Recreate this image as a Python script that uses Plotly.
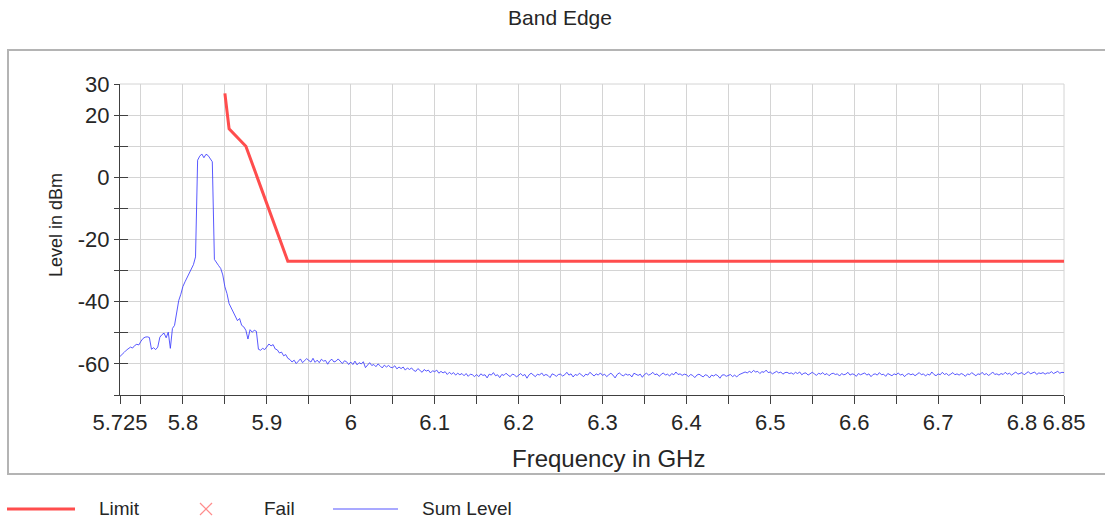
import numpy as np
import plotly.graph_objects as go

# ---------------- data ----------------
limit_freq = [5.85, 5.855, 5.875, 5.925, 6.85]
limit_level = [27.0, 15.6, 10.0, -27.0, -27.0]

sum_level = [
    # 5.725 - 5.7475
    -57.6, -57.1, -56.3, -55.6, -55.1, -54.6, -54.9, -54.1, -53.7, -53.9,
    # 5.75 - 5.7725
    -52.7, -51.8, -51.4, -51.3, -51.5, -55.3, -54.8, -55.4, -54.6, -51.4,
    # 5.775 - 5.7975
    -50.6, -50.1, -51.6, -49.8, -55.0, -48.6, -47.6, -44.2, -39.6, -37.6,
    # 5.8 - 5.8225
    -35.1, -33.6, -32.2, -30.6, -29.4, -28.1, -25.6, 5.5, 6.8, 7.5,
    # 5.825 - 5.8475
    6.3, 7.4, 7.0, 6.0, 5.0, -26.4, -27.6, -28.4, -29.3, -31.4,
    # 5.85 - 5.8725
    -35.2, -37.4, -40.6, -42.1, -43.2, -44.6, -46.1, -45.4, -47.6, -48.1,
    # 5.875 - 5.8975
    -49.2, -52.0, -49.0, -49.8, -49.2, -49.5, -55.3, -55.6, -55.0, -55.4,
    # 5.9 - 5.9225
    -54.5, -53.6, -54.2, -53.8, -55.2, -55.5, -56.5, -56.2, -57.4, -57.0,
    # 5.925 - 5.9475
    -58.2, -58.6, -59.4, -58.8, -59.9, -59.0, -58.4, -59.6, -59.0, -58.3,
    # 5.95 - 5.9975
    -58.9, -59.4, -58.2, -59.5, -58.8, -59.6, -58.5, -59.1, -58.9, -60.1,
    -59.0, -58.5, -59.4, -59.1, -58.4, -59.2, -59.9, -59.0, -59.3, -60.2,
    # 6.0 - 6.0475
    -59.4, -60.2, -59.1, -60.3, -59.6, -60.0, -59.3, -61.2, -60.4, -59.6,
    -60.5, -60.2, -60.9, -60.0, -60.6, -61.3, -60.4, -61.0, -60.5, -61.1,
    # 6.05 - 6.0975
    -61.2, -60.6, -61.6, -61.0, -61.5, -61.0, -62.0, -61.3, -61.8, -61.3,
    -62.1, -62.4, -61.5, -62.0, -62.7, -61.8, -62.3, -62.0, -62.9, -62.2,
    # 6.1 - 6.1475
    -62.5, -62.0, -63.0, -62.4, -62.9, -62.5, -63.4, -62.7, -63.3, -62.8,
    -63.6, -63.0, -63.5, -63.1, -63.8, -63.1, -64.0, -63.3, -63.5, -64.1,
    # 6.15 - 6.1975
    -63.4, -64.1, -63.2, -63.7, -63.5, -64.5, -63.3, -63.6, -62.8, -63.8,
    -63.5, -64.4, -63.4, -63.7, -63.0, -63.6, -64.1, -63.3, -63.5, -64.2,
    # 6.2 - 6.2475
    -63.6, -63.1, -63.8, -63.4, -64.6, -63.5, -63.0, -63.7, -64.1, -63.3,
    -63.6, -62.9, -63.8, -63.4, -63.7, -64.4, -63.2, -63.5, -64.0, -63.4,
    # 6.25 - 6.2975
    -63.3, -63.9, -63.5, -62.7, -63.6, -63.2, -64.2, -63.4, -63.7, -63.0,
    -63.5, -64.1, -63.3, -63.6, -62.7, -63.4, -63.9, -63.2, -63.6, -62.9,
    # 6.3 - 6.3475
    -63.7, -63.3, -64.1, -63.5, -63.0, -63.6, -64.5, -63.4, -62.9, -63.5,
    -63.9, -63.2, -63.6, -63.4, -64.2, -63.0, -63.5, -63.7, -63.3, -64.3,
    # 6.35 - 6.3975
    -63.4, -63.0, -63.6, -63.3, -62.7, -63.5, -63.2, -64.0, -63.4, -62.9,
    -63.6, -63.3, -63.9, -63.1, -63.5, -62.6, -63.4, -63.2, -63.7, -63.3,
    # 6.4 - 6.4475
    -63.5, -64.1, -63.4, -63.7, -64.4, -63.6, -63.3, -63.9, -64.2, -63.5,
    -63.7, -64.5, -63.6, -63.9, -63.4, -63.8, -64.6, -63.6, -63.5, -64.0,
    # 6.45 - 6.4725
    -63.7, -63.4, -64.1, -63.6, -64.2, -63.5, -63.2, -63.0, -62.6, -62.9,
    # 6.475 - 6.5225
    -62.4, -62.8, -62.1, -62.6, -62.4, -63.1, -62.5, -62.7, -62.0, -62.8,
    -62.6, -63.2, -62.7, -62.4, -62.9, -62.6, -63.3, -62.8, -62.7, -63.1,
    # 6.525 - 6.5725
    -62.9, -63.3, -62.7, -63.1, -62.6, -63.5, -63.0, -62.9, -63.6, -63.1,
    -62.7, -63.2, -63.7, -63.0, -63.3, -62.8, -63.5, -63.1, -63.8, -63.2,
    # 6.575 - 6.6225
    -63.0, -63.4, -63.2, -63.9, -63.1, -63.5, -63.3, -62.7, -63.6, -63.2,
    -63.4, -64.0, -63.1, -63.5, -63.3, -62.9, -63.6, -63.2, -64.1, -63.4,
    # 6.625 - 6.6725
    -63.2, -63.6, -62.8, -63.5, -63.3, -64.0, -63.1, -63.4, -63.8, -63.2,
    -63.5, -62.9, -63.6, -63.3, -64.1, -63.4, -63.1, -63.5, -63.2, -63.8,
    # 6.675 - 6.7225
    -63.4, -62.8, -63.5, -63.2, -63.9, -63.3, -63.6, -62.6, -63.4, -63.8,
    -63.2, -63.5, -62.7, -63.4, -63.1, -63.7, -63.3, -62.8, -63.5, -63.2,
    # 6.725 - 6.7725
    -63.6, -63.1, -63.4, -64.0, -63.2, -63.5, -62.8, -63.3, -63.8, -63.2,
    -63.4, -62.7, -63.5, -63.1, -63.7, -63.3, -62.6, -63.4, -63.2, -63.6,
    # 6.775 - 6.8225
    -63.1, -63.4, -62.7, -63.3, -63.0, -63.6, -63.2, -62.6, -63.3, -63.1,
    -62.8, -63.5, -63.0, -62.5, -63.2, -63.0, -62.6, -63.4, -62.9, -63.1,
    # 6.825 - 6.85
    -62.8, -63.3, -62.9, -63.0, -62.5, -63.1, -62.8, -62.4, -63.0, -62.7, -62.8,
]
assert len(sum_level) == 451, len(sum_level)
sum_freq = np.linspace(5.725, 6.85, len(sum_level))

x_tickvals = [5.725, 5.75, 5.8, 5.85, 5.9, 5.95, 6.0, 6.05, 6.1, 6.15, 6.2, 6.25,
              6.3, 6.35, 6.4, 6.45, 6.5, 6.55, 6.6, 6.65, 6.7, 6.75, 6.8, 6.85]
x_ticktext = ["5.725", "", "5.8", "", "5.9", "", "6", "", "6.1", "", "6.2", "",
              "6.3", "", "6.4", "", "6.5", "", "6.6", "", "6.7", "", "6.8", "6.85"]
y_tickvals = [-70, -60, -50, -40, -30, -20, -10, 0, 10, 20, 30]
y_ticktext = ["", "-60", "", "-40", "", "-20", "", "0", "", "20", "30"]

# ---------------- styling ----------------
FONT = "Liberation Sans, Arial, sans-serif"
RED = "#ff4d4d"
BLUE = "rgba(60,60,255,0.85)"
GRID = "#d4d4d4"
AXIS = "#404040"
TXT = "#262626"

# layout geometry (pixels)
W, H = 1105, 524
L, R, T, B = 120, 41, 84, 129
PW, PH = W - L - R, H - T - B


def px(x):
    return (x - L) / PW


def py(y):
    return (H - B - y) / PH


fig = go.Figure()
fig.add_trace(go.Scatter(x=sum_freq, y=sum_level, mode="lines",
                         line=dict(color=BLUE, width=1), name="Sum Level",
                         showlegend=False))
fig.add_trace(go.Scatter(x=limit_freq, y=limit_level, mode="lines",
                         line=dict(color=RED, width=3), name="Limit",
                         showlegend=False))
# invisible helper to carry the inner half of the crossing y ticks
fig.add_trace(go.Scatter(x=[5.725], y=[-70], yaxis="y2", mode="markers",
                         marker=dict(opacity=0), showlegend=False,
                         hoverinfo="skip"))

fig.update_layout(
    width=W, height=H,
    margin=dict(l=L, r=R, t=T, b=B),
    paper_bgcolor="white", plot_bgcolor="white",
    font=dict(family=FONT, color=TXT),
    title=dict(text="Band Edge", x=560 / W, xref="container", xanchor="center",
               y=1 - 18 / H, yref="container", yanchor="middle",
               font=dict(size=21, family=FONT, color=TXT)),
    xaxis=dict(range=[5.725, 6.85], tickvals=x_tickvals, ticktext=x_ticktext,
               showgrid=True, gridcolor=GRID, gridwidth=1,
               showline=True, linecolor=AXIS, linewidth=1,
               ticks="outside", ticklen=8, tickcolor=AXIS, tickwidth=1,
               tickfont=dict(size=22, family=FONT, color=TXT),
               zeroline=False, fixedrange=True),
    yaxis=dict(range=[-70, 30], tickvals=y_tickvals, ticktext=y_ticktext,
               showgrid=True, gridcolor=GRID, gridwidth=1,
               showline=True, linecolor=AXIS, linewidth=1,
               ticks="outside", ticklen=5, tickcolor=AXIS, tickwidth=1,
               tickfont=dict(size=22, family=FONT, color=TXT),
               zeroline=False, fixedrange=True),
    yaxis2=dict(range=[-70, 30], overlaying="y", side="left", anchor="x",
                tickvals=y_tickvals, showticklabels=False, showgrid=False,
                ticks="inside", ticklen=8, tickcolor=AXIS, tickwidth=1,
                showline=False, zeroline=False, fixedrange=True),
)

shapes = []
# outer frame around the chart area
shapes.append(dict(type="rect", xref="paper", yref="paper",
                   x0=px(8), x1=px(1112), y0=py(474), y1=py(50),
                   line=dict(color="#b4b4b4", width=2), layer="below"))
# top/right borders of the plot area
shapes.append(dict(type="line", xref="paper", yref="paper", x0=0, x1=1, y0=1, y1=1,
                   line=dict(color=GRID, width=1), layer="below"))
shapes.append(dict(type="line", xref="paper", yref="paper", x0=1, x1=1, y0=0, y1=1,
                   line=dict(color=GRID, width=1), layer="below"))
# legend samples
LEG_Y = py(509)
shapes.append(dict(type="line", xref="paper", yref="paper",
                   x0=px(7), x1=px(75), y0=LEG_Y, y1=LEG_Y,
                   line=dict(color=RED, width=3)))
shapes.append(dict(type="line", xref="paper", yref="paper",
                   x0=px(333), x1=px(398), y0=LEG_Y, y1=LEG_Y,
                   line=dict(color="#8c8cff", width=1.5)))
cx, cy, d = 206, 509, 6
for sx in (-1, 1):
    shapes.append(dict(type="line", xref="paper", yref="paper",
                       x0=px(cx - d), x1=px(cx + d),
                       y0=py(cy - d * sx), y1=py(cy + d * sx),
                       line=dict(color="#ff8c8c", width=1.2)))
fig.update_layout(shapes=shapes)

annotations = [
    dict(text="Frequency in GHz", x=px(608), y=py(458), xref="paper", yref="paper",
         showarrow=False, xanchor="center", yanchor="middle",
         font=dict(size=24, family=FONT, color=TXT)),
    dict(text="Level in dBm", x=px(56), y=py(225), xref="paper", yref="paper",
         showarrow=False, xanchor="center", yanchor="middle", textangle=-90,
         font=dict(size=18, family=FONT, color=TXT)),
    dict(text="Limit", x=px(97), y=LEG_Y, xref="paper", yref="paper",
         showarrow=False, xanchor="left", yanchor="middle",
         font=dict(size=19, family=FONT, color=TXT)),
    dict(text="Fail", x=px(262), y=LEG_Y, xref="paper", yref="paper",
         showarrow=False, xanchor="left", yanchor="middle",
         font=dict(size=19, family=FONT, color=TXT)),
    dict(text="Sum Level", x=px(420), y=LEG_Y, xref="paper", yref="paper",
         showarrow=False, xanchor="left", yanchor="middle",
         font=dict(size=19, family=FONT, color=TXT)),
]
fig.update_layout(annotations=annotations)

fig.write_html(
    "out.html",
    config=dict(displayModeBar=False),
    post_script="document.body.style.margin='0';document.body.style.overflow='hidden';",
)
